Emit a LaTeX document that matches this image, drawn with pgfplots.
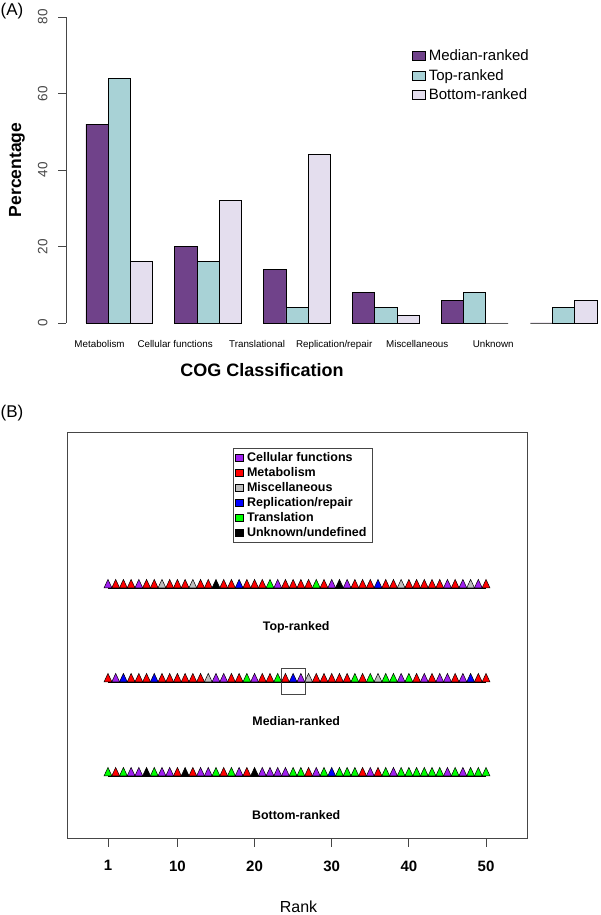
\documentclass[border=0pt]{standalone}
\usepackage{fontspec}
\setmainfont{Liberation Sans}
\usepackage{pgfplots}
\pgfplotsset{compat=1.18}
\definecolor{medcol}{RGB}{112,66,138}
\definecolor{topcol}{RGB}{168,210,214}
\definecolor{botcol}{RGB}{228,222,238}
\definecolor{cfcol}{RGB}{160,32,240}
\definecolor{micol}{RGB}{190,190,190}
\definecolor{axgray}{RGB}{70,70,70}

\begin{document}
\begin{tikzpicture}[x=1pt,y=1pt]
\useasboundingbox (0,0) rectangle (600,915);

% ---------- panel A ----------
\begin{axis}[
  at={(66pt,592pt)}, anchor=south west, scale only axis,
  width=531pt, height=306pt,
  xmin=0.1, xmax=24, ymin=0, ymax=80, clip=false,
  axis y line=left, axis x line=bottom,
  x axis line style={draw=none},
  y axis line style={-, line width=0.9pt, axgray},
  ytick={0,20,40,60,80}, tick align=outside, major tick length=8pt,
  ytick style={line width=0.9pt, axgray},
  yticklabel style={rotate=90, anchor=south, font=\fontsize{13.5}{14}\selectfont, text=axgray},
  yticklabel shift=7pt,
  xtick={1.61,5.01,8.70,12.17,15.91,19.33}, xtick style={draw=none},
  xticklabels={Metabolism, Cellular functions, Translational, Replication/repair, Miscellaneous, Unknown},
  xticklabel style={font=\fontsize{9.8}{11}\selectfont, anchor=north, yshift=-6pt},
  /pgf/number format/assume math mode=true,
  legend style={at={(0.651,0.899)}, anchor=north west, draw=none, fill=none,
    font=\fontsize{15}{17}\selectfont, row sep=3pt, inner sep=0pt,
    nodes={inner xsep=3pt}},
  legend cell align=left,
  legend image code/.code={\draw[#1] (0pt,-4.5pt) rectangle (13pt,4.5pt);},
]
\addplot[ybar, bar width=1, bar shift=0pt, fill=medcol, draw=black, line width=0.9pt]
  coordinates {(1.5,52) (5.5,20) (9.5,14) (13.5,8) (17.5,6) (21.5,0)};
\addplot[ybar, bar width=1, bar shift=0pt, fill=topcol, draw=black, line width=0.9pt]
  coordinates {(2.5,64) (6.5,16) (10.5,4) (14.5,4) (18.5,8) (22.5,4)};
\addplot[ybar, bar width=1, bar shift=0pt, fill=botcol, draw=black, line width=0.9pt]
  coordinates {(3.5,16) (7.5,32) (11.5,44) (15.5,2) (19.5,0) (23.5,6)};
\legend{Median-ranked, Top-ranked, Bottom-ranked}
\end{axis}

% ---------- panel B ----------
\begin{axis}[
  at={(67pt,77pt)}, anchor=south west, scale only axis,
  width=460pt, height=406pt,
  xmin=-4.31, xmax=55.31, ymin=0.309, ymax=4.628, clip=false,
  axis line style={axgray, line width=0.9pt},
  xtick={1,10,20,30,40,50}, xtick pos=left, ytick=\empty,
  tick align=outside, major tick length=9pt,
  xtick style={axgray, line width=0.9pt},
  xticklabel style={font=\bfseries\fontsize{15}{17}\selectfont},
  xticklabel shift=10pt,
  /pgf/number format/assume math mode=true,
  scatter/classes={
    C={mark=triangle*, fill=cfcol, draw=black},
    M={mark=triangle*, fill=red, draw=black},
    G={mark=triangle*, fill=micol, draw=black},
    R={mark=triangle*, fill=blue, draw=black},
    T={mark=triangle*, fill=green, draw=black},
    U={mark=triangle*, fill=black, draw=black}},
  legend style={at={(0.361,0.9606)}, anchor=north west, draw=axgray, line width=0.8pt,
    font=\bfseries\fontsize{12.5}{14}\selectfont, row sep=0pt, inner sep=2pt,
    nodes={inner sep=1pt, inner xsep=4pt, text height=10pt, text depth=3pt}},
  legend cell align=left,
]
\addlegendimage{only marks, mark=square*, mark size=3.8pt, mark options={fill=cfcol, draw=black}}
\addlegendentry{Cellular functions}
\addlegendimage{only marks, mark=square*, mark size=3.8pt, mark options={fill=red, draw=black}}
\addlegendentry{Metabolism}
\addlegendimage{only marks, mark=square*, mark size=3.8pt, mark options={fill=micol, draw=black}}
\addlegendentry{Miscellaneous}
\addlegendimage{only marks, mark=square*, mark size=3.8pt, mark options={fill=blue, draw=black}}
\addlegendentry{Replication/repair}
\addlegendimage{only marks, mark=square*, mark size=3.8pt, mark options={fill=green, draw=black}}
\addlegendentry{Translation}
\addlegendimage{only marks, mark=square*, mark size=3.8pt, mark options={fill=black, draw=black}}
\addlegendentry{Unknown/undefined}

% base lines of the rows
\addplot[black, line width=0.5pt, forget plot] coordinates {(1,2.971) (50,2.971)};
\addplot[black, line width=0.5pt, forget plot] coordinates {(1,1.971) (50,1.971)};
\addplot[black, line width=0.5pt, forget plot] coordinates {(1,0.971) (50,0.971)};

% top-ranked
\addplot[scatter, only marks, scatter src=explicit symbolic, forget plot,
  mark size=4.5pt, mark options={line width=0.5pt, yscale=1.25}]
  coordinates {
  (1,3)[C] (2,3)[M] (3,3)[M] (4,3)[M] (5,3)[C] (6,3)[M] (7,3)[M] (8,3)[G] (9,3)[M] (10,3)[M]
  (11,3)[M] (12,3)[G] (13,3)[M] (14,3)[M] (15,3)[U] (16,3)[M] (17,3)[M] (18,3)[R] (19,3)[M] (20,3)[M]
  (21,3)[M] (22,3)[T] (23,3)[C] (24,3)[M] (25,3)[M] (26,3)[M] (27,3)[M] (28,3)[T] (29,3)[M] (30,3)[C]
  (31,3)[U] (32,3)[C] (33,3)[M] (34,3)[M] (35,3)[M] (36,3)[R] (37,3)[M] (38,3)[M] (39,3)[G] (40,3)[M]
  (41,3)[M] (42,3)[M] (43,3)[M] (44,3)[M] (45,3)[C] (46,3)[M] (47,3)[C] (48,3)[G] (49,3)[C] (50,3)[M]};

% median-ranked
\addplot[scatter, only marks, scatter src=explicit symbolic, forget plot,
  mark size=4.5pt, mark options={line width=0.5pt, yscale=1.25}]
  coordinates {
  (1,2)[M] (2,2)[C] (3,2)[R] (4,2)[M] (5,2)[M] (6,2)[M] (7,2)[R] (8,2)[M] (9,2)[M] (10,2)[M]
  (11,2)[M] (12,2)[M] (13,2)[M] (14,2)[G] (15,2)[C] (16,2)[C] (17,2)[M] (18,2)[M] (19,2)[T] (20,2)[C]
  (21,2)[M] (22,2)[M] (23,2)[T] (24,2)[M] (25,2)[R] (26,2)[C] (27,2)[G] (28,2)[M] (29,2)[M] (30,2)[M]
  (31,2)[M] (32,2)[M] (33,2)[T] (34,2)[M] (35,2)[T] (36,2)[G] (37,2)[T] (38,2)[T] (39,2)[C] (40,2)[T]
  (41,2)[M] (42,2)[C] (43,2)[M] (44,2)[C] (45,2)[C] (46,2)[M] (47,2)[C] (48,2)[R] (49,2)[M] (50,2)[M]};

% bottom-ranked
\addplot[scatter, only marks, scatter src=explicit symbolic, forget plot,
  mark size=4.5pt, mark options={line width=0.5pt, yscale=1.25}]
  coordinates {
  (1,1)[T] (2,1)[M] (3,1)[T] (4,1)[C] (5,1)[C] (6,1)[U] (7,1)[T] (8,1)[C] (9,1)[C] (10,1)[M]
  (11,1)[U] (12,1)[M] (13,1)[C] (14,1)[C] (15,1)[T] (16,1)[M] (17,1)[T] (18,1)[C] (19,1)[M] (20,1)[U]
  (21,1)[C] (22,1)[C] (23,1)[C] (24,1)[C] (25,1)[T] (26,1)[T] (27,1)[M] (28,1)[C] (29,1)[T] (30,1)[R]
  (31,1)[T] (32,1)[T] (33,1)[T] (34,1)[M] (35,1)[C] (36,1)[M] (37,1)[T] (38,1)[C] (39,1)[T] (40,1)[T]
  (41,1)[T] (42,1)[T] (43,1)[T] (44,1)[T] (45,1)[C] (46,1)[T] (47,1)[C] (48,1)[T] (49,1)[T] (50,1)[T]};

\draw[axgray, line width=0.8pt] (axis cs:23.43,1.84) rectangle (axis cs:26.54,2.117);

\node[font=\bfseries\fontsize{12.4}{14}\selectfont] at (axis cs:25.4,2.553) {Top-ranked};
\node[font=\bfseries\fontsize{12.4}{14}\selectfont] at (axis cs:25.4,1.553) {Median-ranked};
\node[font=\bfseries\fontsize{12.4}{14}\selectfont] at (axis cs:25.4,0.553) {Bottom-ranked};
\end{axis}

% ---------- outer labels ----------
\node[font=\fontsize{17}{19}\selectfont] at (12,904) {(A)};
\node[font=\fontsize{17}{19}\selectfont] at (12,502) {(B)};
\node[font=\bfseries\fontsize{17.5}{19}\selectfont, rotate=90] at (17,745) {Percentage};
\node[font=\bfseries\fontsize{18}{20}\selectfont] at (262,545) {COG Classification};
\node[font=\fontsize{16}{18}\selectfont] at (298.5,8) {Rank};
\end{tikzpicture}
\end{document}
